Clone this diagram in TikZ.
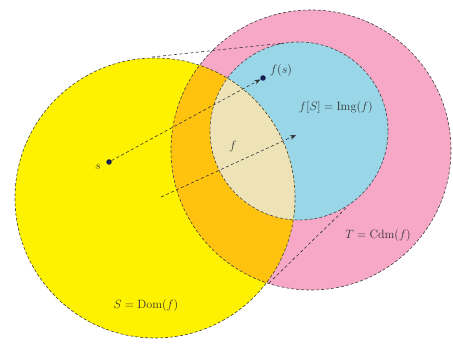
\documentclass[tikz,border=0pt]{standalone}
\usetikzlibrary{arrows.meta}
\definecolor{cyel}{RGB}{255,242,0}
\definecolor{cpink}{RGB}{246,168,198}
\definecolor{cblue}{RGB}{152,214,232}
\definecolor{corange}{RGB}{255,194,14}
\definecolor{ccream}{RGB}{238,227,182}
\definecolor{cdot}{RGB}{20,30,80}
\begin{document}
\begin{tikzpicture}[x=1pt,y=-1pt,
  rim/.style={draw=black!75,densely dashed,line width=0.6pt},
  guide/.style={draw=black!80,dash pattern=on 3pt off 2.5pt,line width=0.6pt},
  pt/.style={circle,fill=cdot,inner sep=0pt,minimum size=5.5pt},
  lbl/.style={font=\fontsize{11.5}{13}\selectfont,text=black!80,inner sep=1pt}]
\useasboundingbox (0,0) rectangle (453,347);
\coordinate (cS) at (155,198);
\coordinate (cT) at (311,150);
\coordinate (cI) at (299,131);
% fills
\fill[cpink] (cT) circle[radius=140pt];
\fill[cblue] (cI) circle[radius=89pt];
\fill[cyel] (cS) circle[radius=140pt];
\begin{scope}
  \clip (cS) circle[radius=140pt];
  \fill[corange] (cT) circle[radius=140pt];
  \fill[ccream] (cI) circle[radius=89pt];
\end{scope}
% borders
\path[rim] (cT) circle[radius=140pt];
\path[rim] (cI) circle[radius=89pt];
\path[rim] (cS) circle[radius=140pt];
% guide lines between S and f[S]
\coordinate (gt1) at (152,57);
\coordinate (gt2) at (284,43);
\coordinate (gb1) at (269,283);
\coordinate (gb2) at (347,207);
\path[guide] (gt1) -- (gt2);
\path[guide] (gb1) -- (gb2);
% points
\node[pt] (s) at (109,162) {};
\node[pt] (fs) at (263,78) {};
\node[lbl] (ls) at (98,167) {$s$};
\node[lbl] (lfs) at (281,71) {$f(s)$};
\path[guide,-{Stealth[length=6pt,width=4.5pt]}] (s) -- (fs);
\coordinate (a1) at (161,197);
\coordinate (a2) at (296,135);
\path[guide,-{Stealth[length=6pt,width=4.5pt]}] (a1) -- (a2);
\node[lbl] (lf) at (233,147) {$f$};
\node[lbl] (lI) at (336,108) {$f[S]=\mathrm{Img}(f)$};
\node[lbl] (lT) at (378,236) {$T=\mathrm{Cdm}(f)$};
\node[lbl] (lS) at (146,306) {$S=\mathrm{Dom}(f)$};
\end{tikzpicture}
\end{document}
